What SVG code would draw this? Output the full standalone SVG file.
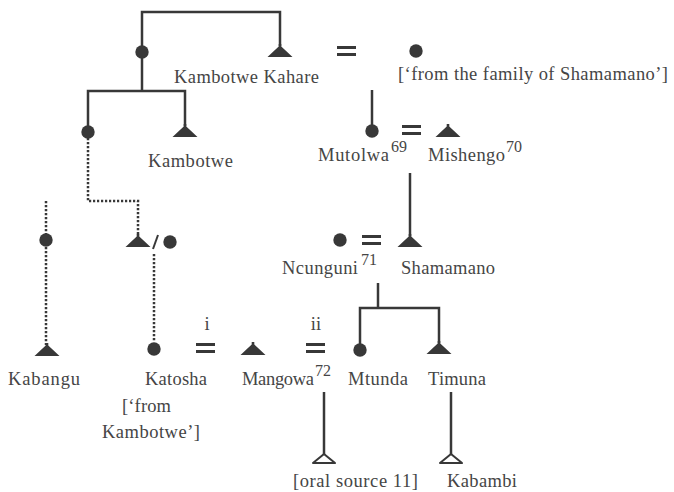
<svg xmlns="http://www.w3.org/2000/svg" xmlns:xlink="http://www.w3.org/1999/xlink" width="674" height="492" viewBox="0 0 674 492">
<style>
  text { font-family: "Liberation Serif", "Times New Roman", serif; font-size: 18.5px; fill: #454545; }
  .sup { font-size: 16px; }
  .ln { fill: none; stroke: #383838; stroke-width: 2.5; }
  .dot { fill: none; stroke: #383838; stroke-width: 2.5; stroke-dasharray: 2.2 1.8; }
  .fill { fill: #383838; }
  .hollow { fill: none; stroke: #383838; stroke-width: 2; stroke-linejoin: round; }
</style>
<defs>
  <path id="tri" class="fill" d="M-1.3,-13 H1.3 V-10.5 L12.5,0 H-12.5 L-1.3,-10.5 Z"/>
  <path id="htri" class="hollow" d="M0,-9 L11,0 H-11 Z"/>
  <circle id="cir" class="fill" r="6.7"/>
  <g id="eq" class="fill"><rect x="0" y="-5" width="19" height="3"/><rect x="0" y="2" width="19" height="3"/></g>
</defs>
<rect width="674" height="492" fill="#ffffff"/>

<g id="connectors">
  <path class="ln" d="M142,52 V12 H280 V46"/>
  <path class="ln" d="M142,52 V91"/>
  <path class="ln" d="M88,132 V91 H185 V126"/>
  <path class="ln" d="M372,90 V131"/>
  <path class="ln" d="M410,173 V236"/>
  <path class="ln" d="M378,283 V308"/>
  <path class="ln" d="M360,350 V308 H439 V343"/>
  <path class="ln" d="M324,392 V455"/>
  <path class="ln" d="M451,392 V455"/>
  <path class="dot" d="M88,138 V201 H138 V236"/>
  <path class="dot" d="M46,201 V234"/>
  <path class="dot" d="M46,247 V345"/>
  <path class="dot" d="M154,254 V342"/>
  <path class="ln" d="M158,235 L153,249" style="stroke-width:2"/>
</g>

<g id="mother-top"><use xlink:href="#cir" x="142" y="52"/></g>
<g id="kambotwe-kahare"><use xlink:href="#tri" x="280" y="57"/><text x="174" y="83" textLength="145" lengthAdjust="spacing">Kambotwe Kahare</text></g>
<g id="marriage-1"><use xlink:href="#eq" x="337" y="51"/></g>
<g id="wife-shamamano-family"><use xlink:href="#cir" x="416" y="51"/><text x="398" y="80" textLength="270" lengthAdjust="spacing">[‘from the family of Shamamano’]</text></g>

<g id="daughter-2"><use xlink:href="#cir" x="88" y="132"/></g>
<g id="kambotwe"><use xlink:href="#tri" x="185" y="137"/><text x="148" y="167" textLength="85" lengthAdjust="spacing">Kambotwe</text></g>

<g id="mutolwa"><use xlink:href="#cir" x="372" y="131"/><text x="318" y="161" textLength="71" lengthAdjust="spacing">Mutolwa</text><text class="sup" x="391" y="152">69</text></g>
<g id="marriage-2"><use xlink:href="#eq" x="402" y="130"/></g>
<g id="mishengo"><use xlink:href="#tri" x="448" y="137"/><text x="428" y="161" textLength="77" lengthAdjust="spacing">Mishengo</text><text class="sup" x="506" y="152">70</text></g>

<g id="daughter-3"><use xlink:href="#cir" x="46" y="240"/></g>
<g id="unknown-sex"><use xlink:href="#tri" x="138" y="247"/><use xlink:href="#cir" x="170" y="242"/></g>

<g id="ncunguni"><use xlink:href="#cir" x="340" y="240"/><text x="282" y="274" textLength="76" lengthAdjust="spacing">Ncunguni</text><text class="sup" x="361" y="265">71</text></g>
<g id="marriage-3"><use xlink:href="#eq" x="362" y="240"/></g>
<g id="shamamano"><use xlink:href="#tri" x="410" y="247"/><text x="401" y="274" textLength="94" lengthAdjust="spacing">Shamamano</text></g>

<g id="kabangu"><use xlink:href="#tri" x="47" y="356"/><text x="8" y="385" textLength="72" lengthAdjust="spacing">Kabangu</text></g>
<g id="katosha"><use xlink:href="#cir" x="154" y="349"/><text x="145" y="385" textLength="62" lengthAdjust="spacing">Katosha</text><text x="122" y="412" textLength="49" lengthAdjust="spacing">[‘from</text><text x="102" y="438" textLength="98" lengthAdjust="spacing">Kambotwe’]</text></g>
<g id="marriage-i"><text x="207" y="330" text-anchor="middle">i</text><use xlink:href="#eq" x="196" y="348"/></g>
<g id="mangowa"><use xlink:href="#tri" x="253" y="355"/><text x="242" y="385" textLength="72" lengthAdjust="spacing">Mangowa</text><text class="sup" x="315" y="376">72</text></g>
<g id="marriage-ii"><text x="316" y="330" text-anchor="middle">ii</text><use xlink:href="#eq" x="306" y="348"/></g>
<g id="mtunda"><use xlink:href="#cir" x="360" y="350"/><text x="348" y="385" textLength="60" lengthAdjust="spacing">Mtunda</text></g>
<g id="timuna"><use xlink:href="#tri" x="439" y="354"/><text x="428" y="385" textLength="58" lengthAdjust="spacing">Timuna</text></g>

<g id="oral-source-11"><use xlink:href="#htri" x="324" y="463"/><text x="293" y="487" textLength="125" lengthAdjust="spacing">[oral source 11]</text></g>
<g id="kabambi"><use xlink:href="#htri" x="451" y="463"/><text x="447" y="487" textLength="70" lengthAdjust="spacing">Kabambi</text></g>
</svg>
